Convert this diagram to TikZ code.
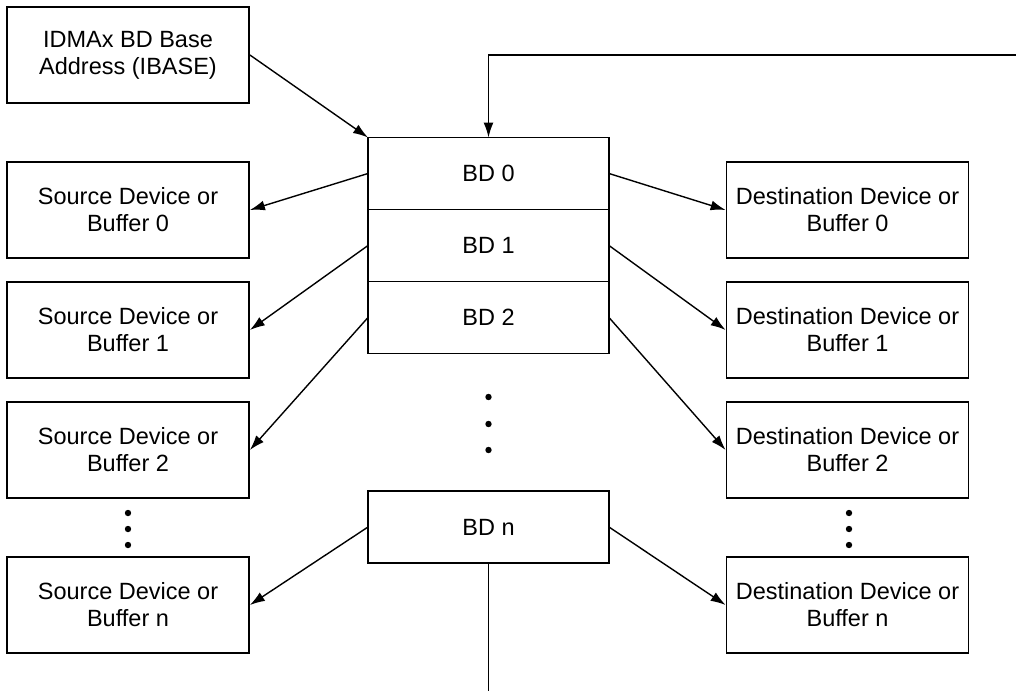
\documentclass[tikz,border=0pt]{standalone}
\usepackage{fontspec}
\setmainfont{Liberation Sans}
\usepackage{tikz}
\usetikzlibrary{
  arrows.meta,%
  positioning,%
  calc
}
\tikzset{>={Latex[length=15pt,width=10pt]}}
\tikzset{font=\fontsize{23.5}{27}\selectfont}
\tikzset{devbox/.style={draw, line width=1.8pt, minimum width=242pt,
    minimum height=96pt, align=center, inner sep=0pt}}
\tikzset{bdbox/.style={draw, line width=1.8pt, minimum width=241pt,
    minimum height=72pt, inner sep=0pt, outer sep=0pt}}
\tikzset{link/.style={->, line width=1.4pt}}

\begin{document}
\begin{tikzpicture}[x=1pt, y=-1pt]
                \useasboundingbox (0, 0) rectangle (1016, 691);%
                % base address and descriptor table
                \node[devbox] (ibase) at (128, 55) {IDMAx BD Base\\Address (IBASE)};%
                \node[bdbox] (bd0) at (488.5, 173.5) {BD 0};%
                \node[bdbox, below=0pt of bd0] (bd1) {BD 1};%
                \node[bdbox, below=0pt of bd1] (bd2) {BD 2};%
                \node[bdbox] (bdn) at (488.5, 527) {BD n};%
                % source and destination boxes
                \node[devbox] (src0) at (128, 210) {Source Device or\\Buffer 0};%
                \node[devbox] (src1) at (128, 330) {Source Device or\\Buffer 1};%
                \node[devbox] (src2) at (128, 450) {Source Device or\\Buffer 2};%
                \node[devbox] (srcn) at (128, 605) {Source Device or\\Buffer n};%
                \node[devbox] (dst0) at (847.5, 210) {Destination Device or\\Buffer 0};%
                \node[devbox] (dst1) at (847.5, 330) {Destination Device or\\Buffer 1};%
                \node[devbox] (dst2) at (847.5, 450) {Destination Device or\\Buffer 2};%
                \node[devbox] (dstn) at (847.5, 605) {Destination Device or\\Buffer n};%
                % dots
                \foreach \y in {397, 424, 450} \fill (488.5, \y) circle (3.2pt);%
                \foreach \y in {513, 529, 545} {\fill (128, \y) circle (3.2pt); \fill (849, \y) circle (3.2pt);}%
                % connectors
                \coordinate (feed) at (1016, 55);%
                \coordinate (out) at (488.5, 691);%
                \draw[link] (feed) -| (bd0.north);%
                \draw[line width=1.4pt] (bdn.south) -- (out);%
                \draw[link] (ibase.east) -- (bd0.north west);%
                \foreach \i in {0, 1, 2, n} {%
                  \draw[link] (bd\i.west) -- (src\i.east);%
                  \draw[link] (bd\i.east) -- (dst\i.west);%
                }
              \end{tikzpicture}
\end{document}
